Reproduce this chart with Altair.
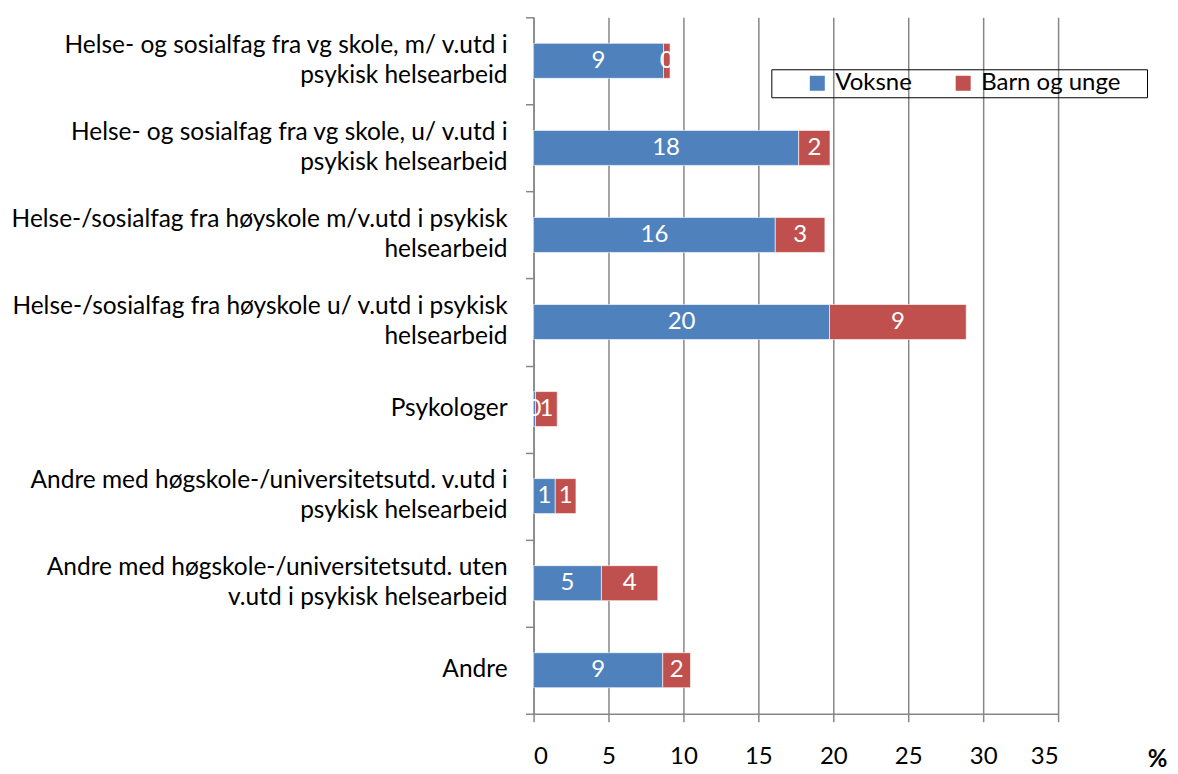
import altair as alt
import pandas as pd

categories = [
    "Helse- og sosialfag fra vg skole, m/ v.utd i|psykisk helsearbeid",
    "Helse- og sosialfag fra vg skole, u/ v.utd i|psykisk helsearbeid",
    "Helse-/sosialfag fra høyskole m/v.utd i psykisk|helsearbeid",
    "Helse-/sosialfag fra høyskole u/ v.utd i psykisk|helsearbeid",
    "Psykologer",
    "Andre med høgskole-/universitetsutd. v.utd i|psykisk helsearbeid",
    "Andre med høgskole-/universitetsutd. uten|v.utd i psykisk helsearbeid",
    "Andre",
]
series = ["Voksne", "Barn og unge"]
voksne = [8.67, 17.69, 16.13, 19.75, 0.13, 1.45, 4.53, 8.62]
barn = [0.44, 2.09, 3.31, 9.12, 1.45, 1.38, 3.76, 1.85]
x_ticks = [0, 5, 10, 15, 20, 25, 30, 35]
colors = ["#4F81BD", "#C0504D"]

rows = []
for i, c in enumerate(categories):
    rows.append({"cat": c, "serie": series[0], "order": 0, "value": voksne[i]})
    rows.append({"cat": c, "serie": series[1], "order": 1, "value": barn[i]})
df = pd.DataFrame(rows)

FONT = "Lato"
GRID = "#878787"

base = alt.Chart(df).transform_stack(
    stack="value", groupby=["cat"], as_=["x0", "x1"], sort=[alt.SortField("order")]
).transform_calculate(mid="(datum.x0 + datum.x1) / 2")

y_enc = alt.Y(
    "cat:N",
    sort=categories,
    scale=alt.Scale(paddingInner=0, paddingOuter=0),
    axis=alt.Axis(
        title=None,
        labels=False,
        tickBand="extent",
        tickSize=8,
        tickColor=GRID,
        tickWidth=1.5,
        domainColor=GRID,
        domainWidth=1.5,
        grid=False,
    ),
)

bars = base.mark_bar(size=35, stroke="#ffffff", strokeWidth=0.6).encode(
    x=alt.X(
        "x0:Q",
        scale=alt.Scale(domain=[0, 35], nice=False),
        axis=alt.Axis(
            values=x_ticks,
            title="%",
            titleFont=FONT,
            titleFontSize=24,
            titleFontWeight="bold",
            titleX=624,
            titleY=46,
            titleAlign="center",
            titleBaseline="middle",
            labelFont=FONT,
            labelFontSize=24,
            labelPadding=23,
            labelColor="#000000",
            tickSize=8,
            tickColor=GRID,
            tickWidth=1.5,
            domainColor=GRID,
            domainWidth=1.5,
            grid=True,
            gridColor=GRID,
            gridWidth=1.5,
        ),
    ),
    x2="x1:Q",
    y=y_enc,
    color=alt.Color(
        "serie:N",
        scale=alt.Scale(domain=series, range=colors),
        legend=alt.Legend(
            title="\u2003",
            titleOrient="right",
            titleFont=FONT,
            titleFontSize=24,
            titlePadding=25,
            orient="none",
            legendX=238,
            legendY=52,
            direction="horizontal",
            strokeColor="#000000",
            padding=2,
            symbolType="square",
            symbolSize=225,
            symbolStrokeWidth=0,
            symbolOffset=32,
            columnPadding=7,
            labelFont=FONT,
            labelFontSize=24,
            labelColor="#000000",
            labelOffset=6,
        ),
    ),
)

values = base.mark_text(
    color="#ffffff", font=FONT, fontSize=24, align="center", baseline="middle"
).encode(
    x="mid:Q",
    y=y_enc,
    text=alt.Text("value:Q", format=".0f"),
)

cat_base = alt.Chart(df).transform_filter("datum.order == 0").transform_calculate(
    lines="split(datum.cat, '|')"
)

two_line = cat_base.transform_filter("indexof(datum.cat, '|') >= 0").mark_text(
    font=FONT, fontSize=24.5, lineHeight=30, align="right", baseline="line-bottom", color="#000000"
).encode(x=alt.value(-26), y=y_enc, text="lines:N")

one_line = cat_base.transform_filter("indexof(datum.cat, '|') < 0").mark_text(
    font=FONT, fontSize=24.5, lineHeight=30, align="right", baseline="middle", color="#000000"
).encode(x=alt.value(-26), y=y_enc, text="cat:N")

chart = alt.layer(bars, values, two_line, one_line).properties(
    width=525,
    height=697,
    autosize=alt.AutoSizeParams(type="none"),
    padding={"left": 526, "top": 9, "right": 112, "bottom": 62},
).configure_view(strokeWidth=0)

chart.save("out.html", embed_options={"renderer": "svg", "actions": False})
